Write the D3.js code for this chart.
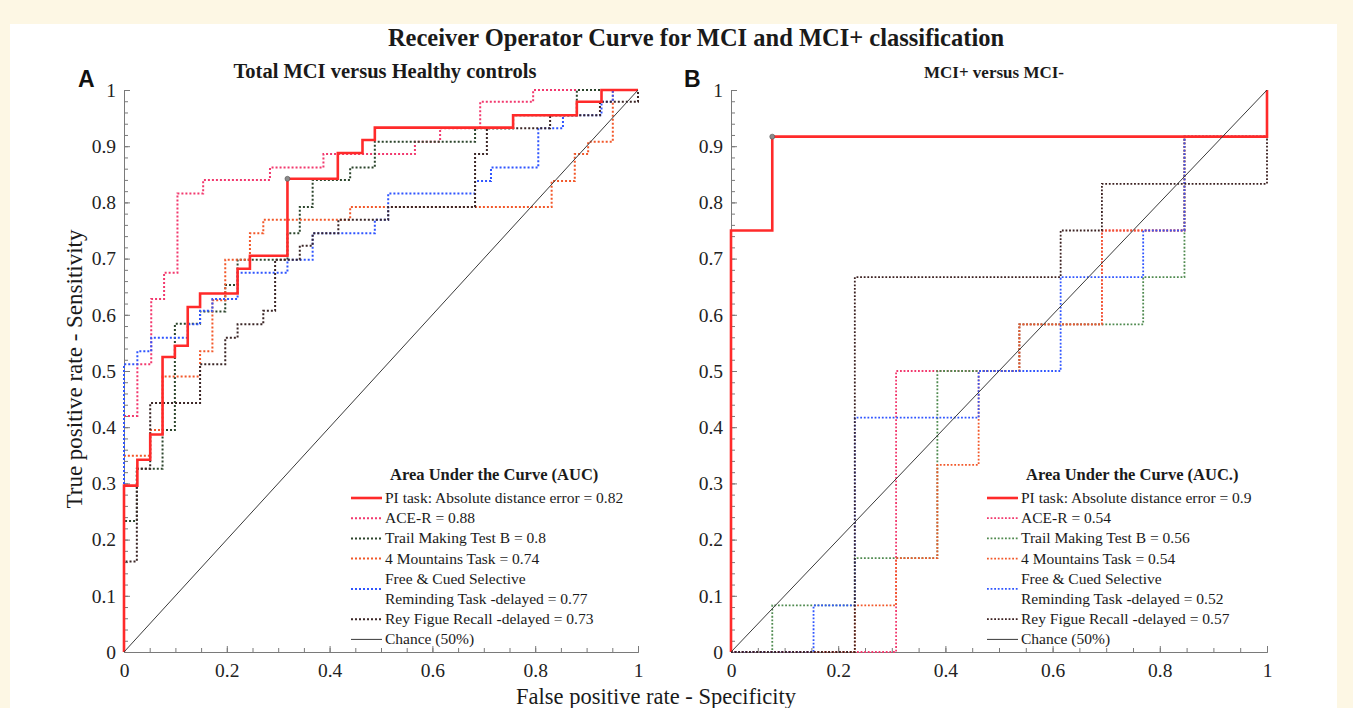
<!DOCTYPE html>
<html lang="en">
<head>
<meta charset="UTF-8">
<title>Receiver Operator Curve for MCI and MCI+ classification</title>
<script src="https://d3js.org/d3.v7.min.js"></script>
<style>
  body { margin: 0; background: #fdf7e4; }
  svg { display: block; }
  text { font-family: "Liberation Serif", "Times New Roman", serif; fill: #1a1a1a; }
  .letter { font-family: "Liberation Sans", Arial, sans-serif; font-weight: bold; font-size: 23px; fill: #111; }
  .axis path, .axis line { stroke: #7a7a7a; stroke-width: 1; }
  .axis text { font-family: "Liberation Serif", serif; font-size: 19.5px; fill: #222; }
</style>
</head>
<body>
<svg width="1353" height="708"></svg>
<script>
// ---- data ----
// Panel A: Total MCI versus Healthy controls  ([false positive rate, true positive rate] corners)
const piA = [[0,0],[0,0.296],[0.026,0.296],[0.026,0.342],[0.051,0.342],[0.051,0.387],[0.075,0.387],[0.075,0.525],[0.099,0.525],[0.099,0.545],[0.124,0.545],[0.124,0.614],[0.148,0.614],[0.148,0.638],[0.221,0.638],[0.221,0.682],[0.245,0.682],[0.245,0.705],[0.318,0.705],[0.318,0.842],[0.416,0.842],[0.416,0.888],[0.464,0.888],[0.464,0.911],[0.488,0.911],[0.488,0.933],[0.757,0.933],[0.757,0.955],[0.881,0.955],[0.881,0.979],[0.929,0.979],[0.929,1],[1,1]];
const aceA = [[0,0],[0,0.42],[0.026,0.42],[0.026,0.512],[0.053,0.512],[0.053,0.628],[0.078,0.628],[0.078,0.675],[0.104,0.675],[0.104,0.816],[0.154,0.816],[0.154,0.84],[0.284,0.84],[0.284,0.862],[0.388,0.862],[0.388,0.886],[0.566,0.886],[0.566,0.908],[0.615,0.908],[0.615,0.932],[0.693,0.932],[0.693,0.979],[0.796,0.979],[0.796,1],[1,1]];
const trailA = [[0,0],[0,0.233],[0.025,0.233],[0.025,0.326],[0.075,0.326],[0.075,0.395],[0.099,0.395],[0.099,0.584],[0.148,0.584],[0.148,0.606],[0.197,0.606],[0.197,0.653],[0.221,0.653],[0.221,0.698],[0.318,0.698],[0.318,0.745],[0.342,0.745],[0.342,0.792],[0.367,0.792],[0.367,0.84],[0.44,0.84],[0.44,0.862],[0.488,0.862],[0.488,0.908],[0.683,0.908],[0.683,0.932],[0.757,0.932],[0.757,0.955],[0.881,0.955],[0.881,1],[1,1]];
const mountainsA = [[0,0],[0,0.349],[0.051,0.349],[0.051,0.395],[0.075,0.395],[0.075,0.49],[0.148,0.49],[0.148,0.535],[0.172,0.535],[0.172,0.626],[0.197,0.626],[0.197,0.698],[0.245,0.698],[0.245,0.745],[0.271,0.745],[0.271,0.769],[0.44,0.769],[0.44,0.792],[0.832,0.792],[0.832,0.838],[0.877,0.838],[0.877,0.886],[0.903,0.886],[0.903,0.908],[0.951,0.908],[0.951,1],[1,1]];
const freeA = [[0,0],[0,0.512],[0.026,0.512],[0.026,0.535],[0.053,0.535],[0.053,0.559],[0.124,0.559],[0.124,0.583],[0.148,0.583],[0.148,0.607],[0.172,0.607],[0.172,0.628],[0.221,0.628],[0.221,0.675],[0.318,0.675],[0.318,0.698],[0.367,0.698],[0.367,0.745],[0.488,0.745],[0.488,0.769],[0.514,0.769],[0.514,0.816],[0.683,0.816],[0.683,0.838],[0.714,0.838],[0.714,0.862],[0.806,0.862],[0.806,0.932],[0.854,0.932],[0.854,0.955],[0.929,0.955],[0.929,0.979],[0.951,0.979],[0.951,1],[1,1]];
const reyA = [[0,0],[0,0.161],[0.025,0.161],[0.025,0.326],[0.051,0.326],[0.051,0.443],[0.148,0.443],[0.148,0.512],[0.197,0.512],[0.197,0.559],[0.221,0.559],[0.221,0.583],[0.271,0.583],[0.271,0.607],[0.294,0.607],[0.294,0.698],[0.342,0.698],[0.342,0.723],[0.367,0.723],[0.367,0.745],[0.417,0.745],[0.417,0.769],[0.514,0.769],[0.514,0.792],[0.683,0.792],[0.683,0.886],[0.706,0.886],[0.706,0.932],[0.829,0.932],[0.829,0.955],[0.926,0.955],[0.926,0.979],[1,0.979],[1,1]];
const markerA = [0.318, 0.842];

// Panel B: MCI+ versus MCI-
const piB = [[0,0],[0,0.75],[0.077,0.75],[0.077,0.917],[1,0.917],[1,1]];
const aceB = [[0,0],[0.308,0],[0.308,0.5],[0.538,0.5],[0.538,0.583],[0.692,0.583],[0.692,0.75],[0.846,0.75],[0.846,0.917],[1,0.917],[1,1]];
const trailB = [[0,0],[0.077,0],[0.077,0.083],[0.231,0.083],[0.231,0.167],[0.385,0.167],[0.385,0.5],[0.538,0.5],[0.538,0.583],[0.769,0.583],[0.769,0.667],[0.846,0.667],[0.846,0.917],[1,0.917],[1,1]];
const mountainsB = [[0,0],[0.231,0],[0.231,0.083],[0.308,0.083],[0.308,0.167],[0.385,0.167],[0.385,0.333],[0.462,0.333],[0.462,0.5],[0.538,0.5],[0.538,0.583],[0.692,0.583],[0.692,0.75],[0.846,0.75],[0.846,0.917],[1,0.917],[1,1]];
const freeB = [[0,0],[0.154,0],[0.154,0.083],[0.231,0.083],[0.231,0.417],[0.462,0.417],[0.462,0.5],[0.615,0.5],[0.615,0.667],[0.769,0.667],[0.769,0.75],[0.846,0.75],[0.846,0.917],[1,0.917],[1,1]];
const reyB = [[0,0],[0.231,0],[0.231,0.667],[0.615,0.667],[0.615,0.75],[0.692,0.75],[0.692,0.833],[1,0.833],[1,1]];
const markerB = [0.077, 0.917];

const chance = [[0,0],[1,1]];

const legendA = [["PI task: Absolute distance error = 0.82"], ["ACE-R = 0.88"], ["Trail Making Test B = 0.8"], ["4 Mountains Task = 0.74"], ["Free & Cued Selective", "Reminding Task -delayed = 0.77"], ["Rey Figue Recall -delayed = 0.73"], ["Chance (50%)"]];
const legendB = [["PI task: Absolute distance error = 0.9"], ["ACE-R  = 0.54"], ["Trail Making Test B = 0.56"], ["4 Mountains Task = 0.54"], ["Free & Cued Selective", "Reminding Task -delayed = 0.52"], ["Rey Figue Recall -delayed = 0.57"], ["Chance (50%)"]];

const yTicks = [0, 0.1, 0.2, 0.3, 0.4, 0.5, 0.6, 0.7, 0.8, 0.9, 1];
const xTicks = [0, 0.2, 0.4, 0.6, 0.8, 1];

// ---- drawing ----
const svg = d3.select("svg");
svg.append("rect").attr("x", 10).attr("y", 24).attr("width", 1327).attr("height", 684).attr("fill", "#fff");

svg.append("text").attr("x", 696).attr("y", 46).attr("text-anchor", "middle")
    .attr("font-size", "24.5px").attr("font-weight", "bold").text("Receiver Operator Curve for MCI and MCI+ classification");
svg.append("text").attr("x", 82).attr("y", 369).attr("text-anchor", "middle")
    .attr("transform", "rotate(-90,82,369)").attr("font-size", "23px").text("True positive rate - Sensitivity");
svg.append("text").attr("x", 656).attr("y", 704).attr("text-anchor", "middle")
    .attr("font-size", "22.5px").text("False positive rate - Specificity");

function fmt(d) { return String(+d.toFixed(1)); }

function drawPanel(p) {
    const x = d3.scaleLinear().domain([0, 1]).range([p.left, p.right]);
    const y = d3.scaleLinear().domain([0, 1]).range([652, 90]);
    const g = svg.append("g");

    // minor ticks
    g.append("g").attr("class", "axis").attr("transform", "translate(0,652)")
        .call(d3.axisBottom(x).tickValues(d3.range(0, 1.001, 0.05)).tickSize(-4).tickFormat(""));
    g.append("g").attr("class", "axis").attr("transform", `translate(${p.left},0)`)
        .call(d3.axisLeft(y).tickValues(d3.range(0, 1.001, 0.02)).tickSize(-4).tickFormat(""));
    // major ticks with labels
    g.append("g").attr("class", "axis").attr("transform", "translate(0,652)")
        .call(d3.axisBottom(x).tickValues(xTicks).tickSizeInner(-6).tickSizeOuter(0).tickPadding(11).tickFormat(fmt));
    g.append("g").attr("class", "axis").attr("transform", `translate(${p.left},0)`)
        .call(d3.axisLeft(y).tickValues(yTicks).tickSizeInner(-6).tickSizeOuter(0).tickPadding(8).tickFormat(fmt));

    const line = d3.line().x(d => x(d[0])).y(d => y(d[1]));

    // dotted series first, PI task on top, then the chance diagonal
    p.styles.slice(1, 6).concat([p.styles[0], p.styles[6]]).forEach(s => {
        g.append("path").datum(s.data).attr("d", line).attr("fill", "none")
            .attr("stroke", s.color).attr("stroke-width", s.width)
            .attr("stroke-dasharray", s.dash || null);
    });

    g.append("circle").attr("cx", x(p.marker[0])).attr("cy", y(p.marker[1])).attr("r", 2.5)
        .attr("fill", "#8a8a8a").attr("stroke", "#555").attr("stroke-width", 0.6);

    // subtitle + letter
    svg.append("text").attr("x", p.subX).attr("y", 78).attr("text-anchor", "middle")
        .attr("font-size", p.subSize).attr("font-weight", "bold").text(p.subtitle);
    svg.append("text").attr("class", "letter").attr("x", p.letterX).attr("y", 87).text(p.letter);

    // legend
    const lg = svg.append("g");
    lg.append("text").attr("x", p.legX + 5).attr("y", 480).attr("font-size", "16.5px")
        .attr("font-weight", "bold").text("Area Under the Curve (" + p.aucLabel + ")");
    let row = 0;
    p.legend.forEach((lines, i) => {
        const s = p.styles[i];
        const top = 503 + row * 20.2;
        lines.forEach((t, k) => {
            lg.append("text").attr("x", p.legX).attr("y", top + k * 20.2).attr("font-size", "15.5px").text(t);
        });
        const ly = top - 5 + (lines.length - 1) * 10.1;
        lg.append("line").attr("x1", p.legX - 34).attr("x2", p.legX - 3).attr("y1", ly).attr("y2", ly)
            .attr("stroke", s.color).attr("stroke-width", s.width).attr("stroke-dasharray", s.dash || null);
        row += lines.length;
    });
}

drawPanel({
    left: 124, right: 638, subX: 385, subSize: "20.5px", subtitle: "Total MCI versus Healthy controls",
    letter: "A", letterX: 78, legX: 385, aucLabel: "AUC", legend: legendA, marker: markerA,
    styles: [
        { data: piA, color: "#ff2a2a", width: 2.6 },
        { data: aceA, color: "#f2396e", width: 2, dash: "2,2" },
        { data: trailA, color: "#2c452c", width: 2, dash: "2,2" },
        { data: mountainsA, color: "#f2582a", width: 2, dash: "2,2" },
        { data: freeA, color: "#2f55ff", width: 2, dash: "2,2" },
        { data: reyA, color: "#3b2626", width: 2, dash: "2,2" },
        { data: chance, color: "#3a3a3a", width: 1 }
    ]
});

drawPanel({
    left: 731, right: 1267, subX: 994, subSize: "17px", subtitle: "MCI+ versus MCI-",
    letter: "B", letterX: 684, legX: 1021, aucLabel: "AUC.", legend: legendB, marker: markerB,
    styles: [
        { data: piB, color: "#ff2a2a", width: 2.6 },
        { data: aceB, color: "#f2396e", width: 1.8, dash: "1.8,1.8" },
        { data: trailB, color: "#4f8a4f", width: 1.8, dash: "1.8,1.8" },
        { data: mountainsB, color: "#f2582a", width: 1.8, dash: "1.8,1.8" },
        { data: freeB, color: "#2f55ff", width: 1.8, dash: "1.8,1.8" },
        { data: reyB, color: "#3b2020", width: 1.8, dash: "1.8,1.8" },
        { data: chance, color: "#3a3a3a", width: 1 }
    ]
});
</script>
</body>
</html>
